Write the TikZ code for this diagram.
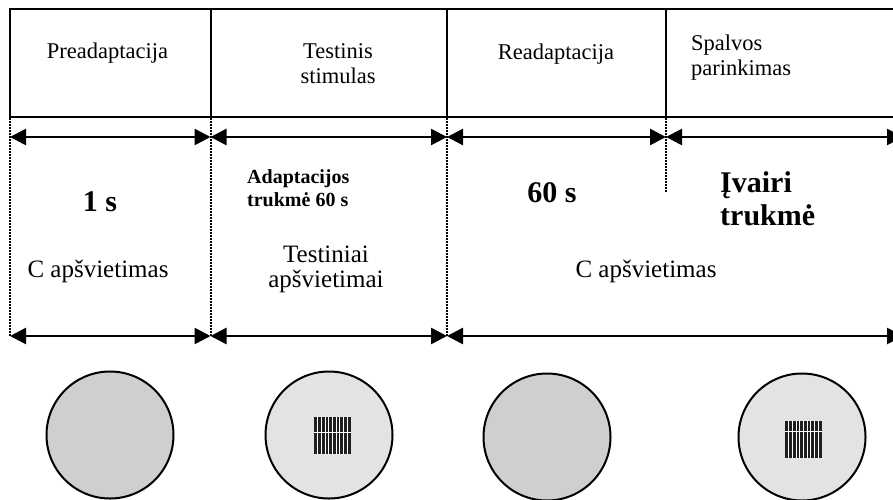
\documentclass[tikz,border=0pt]{standalone}
\usepackage{fontspec}
\setmainfont{Liberation Serif}
\usetikzlibrary{arrows.meta}
\definecolor{darkdisc}{HTML}{CFCFCF}
\definecolor{lightdisc}{HTML}{E3E3E3}
\begin{document}
\begin{tikzpicture}[x=1pt,y=-1pt,
  boxline/.style={line width=2pt},
  guide/.style={line width=2pt, dash pattern=on 2pt off 1pt},
  span/.style={line width=2.6pt, {Triangle[length=16pt,width=16pt]}-{Triangle[length=16pt,width=16pt]}},
  head/.style={font=\fontsize{22.5}{25}\selectfont, inner sep=0pt, anchor=base},
  body/.style={font=\fontsize{25}{25}\selectfont, inner sep=0pt, anchor=base},
  bigbold/.style={font=\fontsize{30}{33}\selectfont\bfseries, inner sep=0pt, anchor=base},
  smallbold/.style={font=\fontsize{20}{23}\selectfont\bfseries, inner sep=0pt, anchor=base west, align=left},
  disc/.style={circle, draw, line width=2pt, minimum size=127pt, inner sep=0pt}
]
\useasboundingbox (0,0) rectangle (893,499);
\clip (0,0) rectangle (893,499);

% header frame
\coordinate (hTL) at (10,9);
\coordinate (hBL) at (10,117);
\coordinate (hTR) at (900,9);
\coordinate (hBR) at (900,117);
\coordinate (d1t) at (210.5,9);  \coordinate (d1b) at (210.5,117);
\coordinate (d2t) at (447,9);    \coordinate (d2b) at (447,117);
\coordinate (d3t) at (666,9);    \coordinate (d3b) at (666,117);
\draw[boxline] (hTR) -- (hTL) -- (hBL) -- (hBR);
\draw[boxline] (d1t) -- (d1b);
\draw[boxline] (d2t) -- (d2b);
\draw[boxline] (d3t) -- (d3b);

% header texts (multi-line nodes: base = last line)
\node[head] (pre) at (107.5,58) {Preadaptacija};
\node[head, align=center] (test) at (338,83) {Testinis\\stimulas};
\node[head] (read) at (556,59) {Readaptacija};
\node[head, anchor=base west, align=left] (spal) at (691,75) {Spalvos\\parinkimas};

% dotted guides
\coordinate (g0t) at (10,118);  \coordinate (g0b) at (10,336);
\coordinate (g1t) at (210.5,118); \coordinate (g1b) at (210.5,336);
\coordinate (g2t) at (447,118); \coordinate (g2b) at (447,336);
\coordinate (g3t) at (666,118); \coordinate (g3b) at (666,192);
\draw[guide] (g0t) -- (g0b);
\draw[guide] (g1t) -- (g1b);
\draw[guide] (g2t) -- (g2b);
\draw[guide] (g3t) -- (g3b);

% duration arrows
\coordinate (a0) at (10,137);
\coordinate (a1) at (210.5,137);
\coordinate (a2) at (447,137);
\coordinate (a3) at (666,137);
\coordinate (a4) at (903,137);
\draw[span] (a0) -- (a1);
\draw[span] (a1) -- (a2);
\draw[span] (a2) -- (a3);
\draw[span] (a3) -- (a4);
\coordinate (b0) at (10,336);
\coordinate (b1) at (210.5,336);
\coordinate (b2) at (447,336);
\coordinate (b3) at (903,336);
\draw[span] (b0) -- (b1);
\draw[span] (b1) -- (b2);
\draw[span] (b2) -- (b3);

% middle texts
\node[bigbold] (one) at (100,211) {1 s};
\node[body] (capL) at (98,277) {C apšvietimas};
\node[smallbold] (adapt) at (247,206) {Adaptacijos\\trukmė 60 s};
\node[body, align=center] (testapsv) at (326,287) {Testiniai\\apšvietimai};
\node[bigbold] (sixty) at (552,202) {60 s};
\node[bigbold, anchor=base west, align=left] (ivairi) at (720,225) {Įvairi\\trukmė};
\node[body] (capR) at (646,277) {C apšvietimas};

% discs
\node[disc, fill=darkdisc] (c1) at (110,435) {};
\node[disc, fill=lightdisc] (c2) at (329,435) {};
\node[disc, fill=darkdisc] (c3) at (547,437) {};
\node[disc, fill=lightdisc] (c4) at (802,437) {};

% gratings
\foreach \cx/\cy/\hy in {314/417/15, 785/421/10} {
  \fill[black!88] (\cx,\cy) rectangle ++(37,37);
  \foreach \k in {1,...,9} {
    \draw[white, line width=0.9pt] (\cx+3.7*\k,\cy) -- ++(0,37);
  }
  \draw[white, line width=1pt] (\cx,\cy+\hy) -- ++(37,0);
}
\end{tikzpicture}
\end{document}
